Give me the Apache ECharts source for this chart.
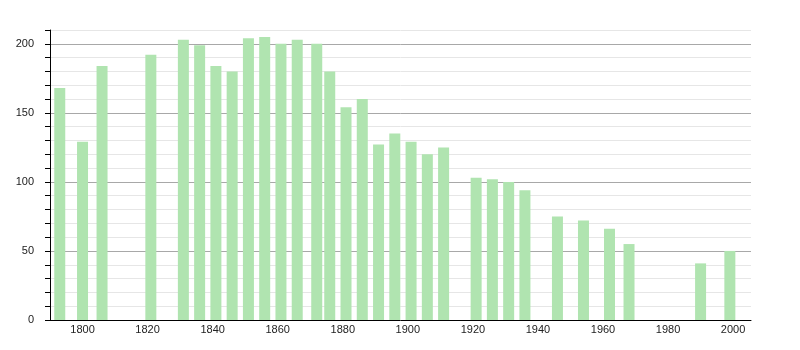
<!DOCTYPE html>
<html>
<head>
<meta charset="utf-8">
<script src="https://cdn.jsdelivr.net/npm/echarts@6/dist/echarts.min.js"></script>
<style>html,body{margin:0;padding:0;background:#fff}#c{width:800px;height:350px}</style>
</head>
<body>
<div id="c"></div>
<script>
const years = [1793,1800,1806,1821,1831,1836,1841,1846,1851,1856,1861,1866,1872,1876,1881,1886,1891,1896,1901,1906,1911,1921,1926,1931,1936,1946,1954,1962,1968,1990,1999];
const population = [168,129,184,192,203,199,184,180,204,205,200,203,200,180,154,160,127,135,129,120,125,103,102,100,94,75,72,66,55,41,50];

const chart = echarts.init(document.getElementById('c'), null, {renderer:'canvas'});
const font = {fontFamily:'Liberation Sans, Arial, sans-serif', fontSize:11, color:'#222'};
chart.setOption({
  animation:false,
  grid:{left:50,right:49,top:30,bottom:30,containLabel:false},
  xAxis:{
    type:'value', min:1790, max:2005.5, interval:10,
    axisLine:{show:true,lineStyle:{color:'#000',width:1}},
    axisTick:{show:false},
    splitLine:{show:false},
    axisLabel:Object.assign({margin:4,showMaxLabel:false,formatter:v=> (v%20===0 ? String(v) : '')}, font)
  },
  yAxis:[
    {
      type:'value', min:0, max:210, interval:10,
      axisLine:{show:true,lineStyle:{color:'#000',width:1}},
      axisTick:{show:true,length:5,lineStyle:{color:'#000'}},
      axisLabel:{show:false},
      splitLine:{show:true,lineStyle:{color:'#e6e6e6',width:1}}
    },
    {
      type:'value', min:0, max:210, interval:50, position:'left',
      axisLine:{show:false},
      axisTick:{show:false},
      axisLabel:Object.assign({margin:16,formatter:v=> (v%50===0 ? String(v) : '')}, font),
      splitLine:{show:true,showMaxLine:false,showMinLine:false,lineStyle:{color:'#a8a8a8',width:1}}
    }
  ],
  series:[{
    type:'bar',
    yAxisIndex:0,
    barWidth:11,
    itemStyle:{color:'#b0e4b0'},
    data: years.map((y,i)=>[y,population[i]])
  }]
});
</script>
</body>
</html>
